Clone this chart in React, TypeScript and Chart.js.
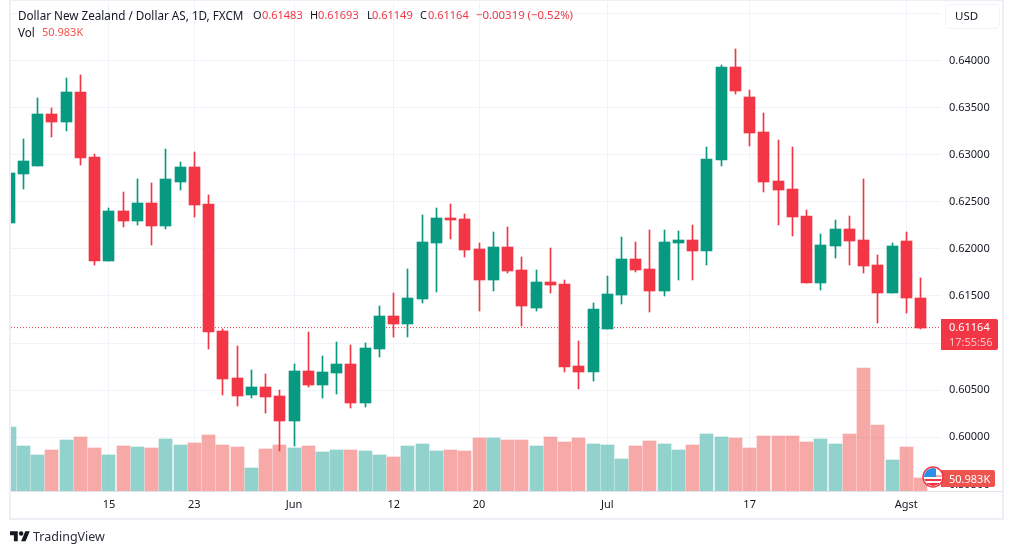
import React, { useEffect, useRef } from "react";
import { Chart, registerables } from "chart.js";

Chart.register(...registerables);

const dates = [
  "2023-05-04","2023-05-05","2023-05-08","2023-05-09","2023-05-10","2023-05-11","2023-05-12",
  "2023-05-15","2023-05-16","2023-05-17","2023-05-18","2023-05-19","2023-05-22","2023-05-23",
  "2023-05-24","2023-05-25","2023-05-26","2023-05-29","2023-05-30","2023-05-31","2023-06-01",
  "2023-06-02","2023-06-05","2023-06-06","2023-06-07","2023-06-08","2023-06-09","2023-06-12",
  "2023-06-13","2023-06-14","2023-06-15","2023-06-16","2023-06-19","2023-06-20","2023-06-21",
  "2023-06-22","2023-06-23","2023-06-26","2023-06-27","2023-06-28","2023-06-29","2023-06-30",
  "2023-07-03","2023-07-04","2023-07-05","2023-07-06","2023-07-07","2023-07-10","2023-07-11",
  "2023-07-12","2023-07-13","2023-07-14","2023-07-17","2023-07-18","2023-07-19","2023-07-20",
  "2023-07-21","2023-07-24","2023-07-25","2023-07-26","2023-07-27","2023-07-28","2023-07-31",
  "2023-08-01","2023-08-02",
];

const opens = [
  .62274,.62794,.62879,.63431,.63346,.63665,.62974,.61870,.62401,.62295,.62486,.62242,.62709,.62868,
  .62476,.61127,.60628,.60448,.60533,.60437,.60172,.60703,.60554,.60681,.60777,.60363,.60936,.61287,
  .61202,.61467,.62061,.62327,.62316,.61998,.61669,.62019,.61775,.61372,.61648,.61626,.60756,.60692,
  .61149,.61510,.61892,.61786,.61552,.62061,.62093,.61977,.62943,.63930,.63611,.63240,.62720,.62635,
  .62348,.61637,.62030,.62210,.62093,.61828,.61531,.62083,.61483,
];
const highs = [
  .62840,.63166,.63601,.63495,.63813,.63845,.63006,.62433,.62603,.62741,.62699,.63059,.62921,.63028,
  .62571,.61149,.60968,.60713,.60671,.60501,.60777,.61117,.60862,.61011,.60979,.61000,.61393,.61531,
  .61786,.62359,.62433,.62476,.62369,.62061,.62178,.62231,.61913,.61775,.62008,.61669,.61021,.61425,
  .61711,.62125,.62072,.62200,.62200,.62189,.62253,.63081,.63951,.64121,.63686,.63442,.63155,.63081,
  .62412,.62157,.62306,.62348,.62741,.61934,.62061,.62178,.61693,
];
const lows = [
  .62240,.62635,.62879,.63187,.63251,.62890,.61828,.61870,.62231,.62253,.62040,.62210,.62624,.62338,
  .60936,.60448,.60331,.60416,.60257,.59853,.59906,.60533,.60416,.60459,.60310,.60321,.60851,.61064,
  .61064,.61425,.61541,.62104,.61913,.61340,.61552,.61743,.61180,.61340,.61531,.60692,.60512,.60597,
  .61149,.61414,.61754,.61329,.61499,.61669,.61669,.61828,.62879,.63643,.63091,.62603,.62253,.62136,
  .61637,.61563,.61902,.61828,.61743,.61212,.61531,.61318,.61149,
];
const closes = [
  .62805,.62932,.63431,.63346,.63665,.62964,.61870,.62401,.62295,.62486,.62242,.62741,.62868,.62465,
  .61117,.60618,.60437,.60533,.60427,.60172,.60703,.60554,.60692,.60777,.60363,.60947,.61287,.61202,
  .61478,.62072,.62327,.62306,.61987,.61669,.62019,.61764,.61393,.61648,.61616,.60745,.60692,.61361,
  .61520,.61892,.61775,.61552,.62072,.62093,.61977,.62953,.63930,.63675,.63229,.62709,.62624,.62338,
  .61637,.62040,.62210,.62083,.61817,.61531,.62030,.61478,.61164,
];
const volumes = [
  251,176,141,161,200,212,169,141,176,172,169,204,180,188,
  220,180,172,90,165,180,169,176,153,161,161,157,141,133,
  176,184,157,161,157,208,208,200,200,176,212,192,208,184,
  180,125,176,196,184,161,180,223,212,208,169,216,216,216,
  192,204,184,223,482,259,122,172,50.983,
];

const priceTicks = [0.595, 0.6, 0.605, 0.61, 0.615, 0.62, 0.625, 0.63, 0.635, 0.64, 0.645];
const xTickDates = ["2023-05-15", "2023-05-23", "2023-06-01", "2023-06-12", "2023-06-20", "2023-07-03", "2023-07-17", "2023-08-01"];
const xTickLabels = ["15", "23", "Jun", "12", "20", "Jul", "17", "Agst"];
const legendTitle = "Dollar New Zealand / Dollar AS, 1D, FXCM";
const lastPrice = "0.61164";
const countdown = "17:55:56";
const lastVolume = "50.983K";

const GREEN = "#089981";
const RED = "#F23645";
const VOL_GREEN = "rgba(38,166,154,0.5)";
const VOL_RED = "rgba(239,83,80,0.5)";
const GRID = "#f0f3fa";
const TEXT = "#131722";
const FONT = '"Noto Sans", sans-serif';
const X_MIN = 0.122;
const X_MAX = 65.44;

const snapBars = {
  id: "snapBars",
  afterDatasetsUpdate(chart: any) {
    chart.getSortedVisibleDatasetMetas().forEach((meta: any) => {
      if (meta.type !== "bar") return;
      meta.data.forEach((el: any) => {
        el.x = Math.round(el.x - 0.5) + 0.5;
        el.y = Math.round(el.y);
        el.base = Math.round(el.base);
        if (el.y === el.base) el.base = el.y + 1;
        el.height = el.base - el.y;
      });
    });
  },
};

function Label({ x, y, color = TEXT, size = 11, weight = 400, children }: any) {
  return (
    <span
      style={{
        position: "absolute",
        left: x,
        top: y,
        color,
        fontFamily: FONT,
        fontSize: size,
        fontWeight: weight,
        lineHeight: "16px",
        whiteSpace: "nowrap",
      }}
    >
      {children}
    </span>
  );
}

function Box(props: any) {
  return <div style={{ position: "absolute", boxSizing: "border-box", ...props }} />;
}

export default function App() {
  const ref = useRef<HTMLCanvasElement>(null);

  useEffect(() => {
    const index = dates.map((_, i) => i);
    const colors = index.map((i) => (closes[i] >= opens[i] ? GREEN : RED));
    const chart = new Chart(ref.current as HTMLCanvasElement, {
      type: "bar",
      data: {
        datasets: [
          {
            label: "Body",
            order: 1,
            grouped: false,
            barThickness: 11,
            data: index.map((i) => ({ x: i, y: [opens[i], closes[i]] })),
            backgroundColor: colors,
          },
          {
            label: "Wick",
            order: 2,
            grouped: false,
            barThickness: 1,
            data: index.map((i) => ({ x: i, y: [lows[i], highs[i]] })),
            backgroundColor: colors,
          },
          {
            type: "line",
            label: "Last",
            order: 3,
            data: [
              { x: X_MIN, y: closes[closes.length - 1] },
              { x: X_MAX, y: closes[closes.length - 1] },
            ],
            borderColor: RED,
            borderWidth: 1,
            borderDash: [1, 2],
            pointRadius: 0,
          },
          {
            label: "Volume",
            order: 4,
            grouped: false,
            barThickness: 13,
            yAxisID: "v",
            data: index.map((i) => ({ x: i, y: volumes[i] })),
            backgroundColor: index.map((i) => (closes[i] >= opens[i] ? VOL_GREEN : VOL_RED)),
          },
        ] as any,
      },
      plugins: [snapBars],
      options: {
        animation: false,
        responsive: false,
        devicePixelRatio: 1,
        layout: { padding: { left: 11, top: 2, right: 10, bottom: 34 } },
        plugins: { legend: { display: false }, tooltip: { enabled: false }, title: { display: false } },
        scales: {
          x: {
            type: "linear",
            offset: false,
            min: X_MIN,
            max: X_MAX,
            afterFit: (s: any) => {
              s.height = 28;
              s.paddingLeft = 0;
              s.paddingRight = 0;
            },
            afterBuildTicks: (s: any) => {
              s.ticks = xTickDates.map((d) => ({ value: dates.indexOf(d) }));
            },
            grid: { offset: false, color: GRID, lineWidth: 1, drawTicks: false },
            border: { display: false },
            ticks: {
              autoSkip: false,
              maxRotation: 0,
              padding: 7,
              color: TEXT,
              font: { family: FONT, size: 11 },
              callback: (v: any) => xTickLabels[xTickDates.indexOf(dates[v])],
            },
          },
          y: {
            position: "right",
            min: 0.5943,
            max: 0.6462,
            afterFit: (s: any) => {
              s.width = 62;
              s.paddingTop = 0;
              s.paddingBottom = 0;
            },
            afterBuildTicks: (s: any) => {
              s.ticks = priceTicks.map((value) => ({ value }));
            },
            grid: {
              color: (c: any) => (c.tick && c.tick.value === 0.595 ? "rgba(0,0,0,0)" : GRID),
              lineWidth: 1,
              drawTicks: false,
            },
            border: { display: false },
            ticks: {
              padding: 8,
              crossAlign: "near",
              color: TEXT,
              font: { family: FONT, size: 11 },
              callback: (v: any) => Number(v).toFixed(5),
            },
          },
          v: {
            display: false,
            position: "left",
            min: 0,
            max: 1917,
          },
        },
      } as any,
    });
    return () => chart.destroy();
  }, []);

  return (
    <div style={{ position: "absolute", left: 0, top: 0, width: 1013, height: 553, overflow: "hidden", background: "#fff" }}>
      <canvas ref={ref} width={1013} height={553} style={{ position: "absolute", left: 0, top: 0, width: 1013, height: 553 }} />
      <Box left={9} top={-1} width={995} height={521} border="2px solid #eeeef4" />
      <Box left={11} top={491} width={991} height={1} background="#e0e3eb" />

      <Label x={18} y={7} size={11.7}>{legendTitle}</Label>
      <Label x={253} y={7}>O</Label>
      <Label x={262} y={7} color={RED}>0.61483</Label>
      <Label x={310} y={7}>H</Label>
      <Label x={318} y={7} color={RED}>0.61693</Label>
      <Label x={367} y={7}>L</Label>
      <Label x={372} y={7} color={RED}>0.61149</Label>
      <Label x={420} y={7}>C</Label>
      <Label x={428} y={7} color={RED}>0.61164</Label>
      <Label x={476} y={7} size={11.4} color={RED}>−0.00319 (−0.52%)</Label>
      <Label x={18} y={24} size={11.7}>Vol</Label>
      <Label x={42} y={24} color="#ef5350">50.983K</Label>

      <Box left={945} top={4} width={55} height={25} background="#fff" border="1px solid #f0f3fa" borderRadius={5} />
      <Label x={955} y={8} size={11.5}>USD</Label>

      <Box left={941} top={319} width={57} height={31} background={RED} borderRadius="0 2px 2px 0" />
      <Label x={949} y={319} color="#fff">{lastPrice}</Label>
      <Label x={949} y={334} color="#fbc3c7">{countdown}</Label>

      <Box left={941} top={470} width={54} height={17} background="#ef5350" borderRadius="0 2px 2px 0" />
      <Label x={949} y={470.5} color="#fff">{lastVolume}</Label>
      <svg style={{ position: "absolute", left: 922, top: 466 }} width={22} height={22} viewBox="0 0 22 22">
        <defs>
          <clipPath id="flagClip"><circle cx="11" cy="11" r="9" /></clipPath>
        </defs>
        <circle cx="11" cy="11" r="10" fill="#fff" stroke={RED} strokeWidth="1.5" />
        <g clipPath="url(#flagClip)">
          <rect x="2" y="2" width="18" height="18" fill="#fff" />
          <rect x="2" y="9" width="18" height="2" fill="#f7a9a7" />
          <rect x="2" y="13" width="18" height="2" fill={RED} />
          <rect x="2" y="17" width="18" height="3" fill={RED} />
          <rect x="2" y="2" width="12" height="9" fill="#2e8fe8" />
        </g>
      </svg>

      <svg style={{ position: "absolute", left: 10, top: 529 }} width={20} height={15.6} viewBox="0 0 36 28">
        <path fill="#131722" d="M14 22H7V11H0V4h14v18zM28 22h-8l7.5-18h8L28 22z" />
        <circle fill="#131722" cx="20" cy="8" r="4" />
      </svg>
      <Label x={33} y={529} size={12.5} color="#2a2e39">TradingView</Label>
    </div>
  );
}
